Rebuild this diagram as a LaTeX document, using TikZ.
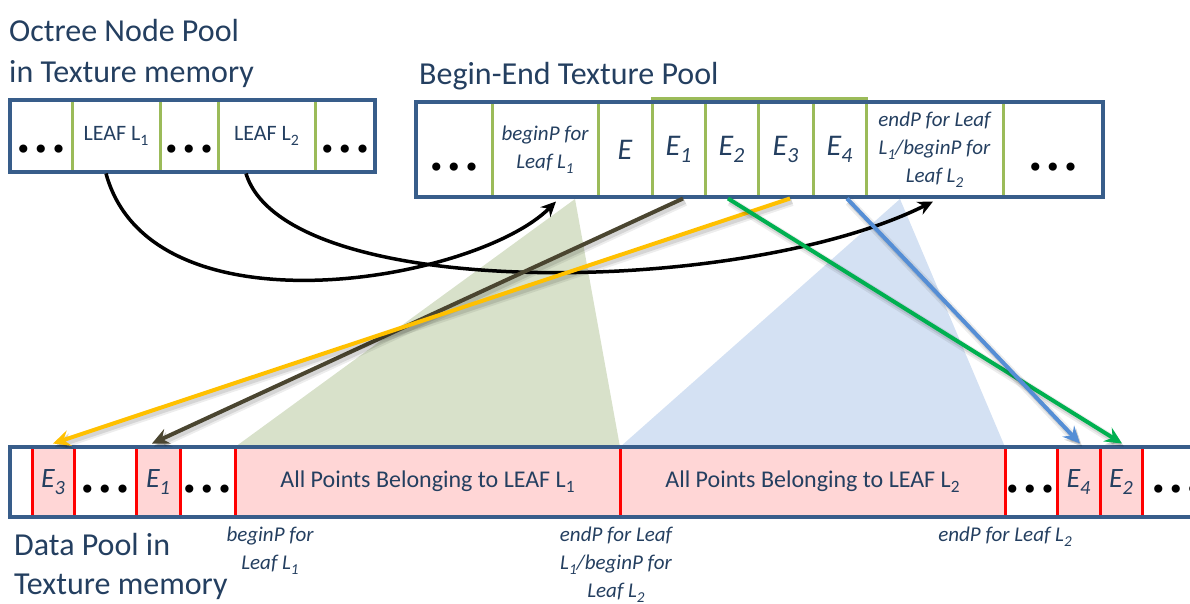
\documentclass[tikz,border=0pt]{standalone}
\usepackage{fontspec}
\setmainfont{Carlito}
\newfontfamily\dejavu{DejaVu Sans}
\usetikzlibrary{arrows.meta,calc}

\definecolor{boxblue}{HTML}{385D8A}
\definecolor{inkblue}{HTML}{243F60}
\definecolor{cellgreen}{HTML}{9BBB59}
\definecolor{cellpink}{HTML}{FFD6D6}
\definecolor{fangreen}{HTML}{D8E1CA}
\definecolor{fanblue}{HTML}{D4E1F3}
\definecolor{olivearrow}{HTML}{4A4530}
\definecolor{yellowarrow}{HTML}{FFC000}
\definecolor{greenarrow}{HTML}{00B050}
\definecolor{bluearrow}{HTML}{558ED5}

\newcommand\tridots{{\dejavu\fontsize{28}{28}\selectfont •\kern1pt•\kern1pt•}}
\newcommand\lsub[1]{\raisebox{-0.22em}{\fontsize{0.72\dimexpr\fontdimen6\font\relax}{0pt}\selectfont #1}}

\begin{document}
\begin{tikzpicture}[x=1pt,y=-1pt,
  title/.style={font=\fontsize{32}{38}\selectfont, text=inkblue, inner sep=0pt},
  ocell/.style={draw=cellgreen, line width=3pt, minimum height=72pt, inner sep=0pt,
    font=\fontsize{22}{26}\selectfont, text=inkblue},
  bcell/.style={draw=cellgreen, line width=3pt, minimum height=95pt, inner sep=0pt,
    text=inkblue, align=center},
  dcell/.style={draw=red, fill=cellpink, line width=3pt, minimum height=70pt, inner sep=0pt,
    text=inkblue},
  bigE/.style={font=\itshape\fontsize{30}{34}\selectfont},
  dataE/.style={font=\itshape\fontsize{28}{32}\selectfont},
  small/.style={font=\itshape\fontsize{21}{28}\selectfont, text=inkblue, align=center, inner sep=0pt},
  dotsnode/.style={inner sep=0pt},
  outline/.style={draw=boxblue, line width=3.5pt},
  linkarrow/.style={line width=3.5pt, -{Stealth[length=15pt,width=14pt]}},
  ptrarrow/.style={line width=4pt, -{Stealth[length=17pt,width=16pt,inset=6pt]},
    preaction={draw=black, opacity=0.07, line width=9pt,
      transform canvas={shift={(2pt,-3pt)}}},
    preaction={draw=black, opacity=0.10, line width=5pt,
      transform canvas={shift={(2pt,-3pt)}}}},
]
\useasboundingbox (0,0) rectangle (1190,603);

% shaded fans: ranges of points covered by each leaf
\fill[fangreen] (575,199) -- (235,447) -- (620,447) -- cycle;
\fill[fanblue] (900,199) -- (620,447) -- (1005,447) -- cycle;

% titles
\node[title, anchor=base west] (octT1) at (9,41) {Octree Node Pool};
\node[title, anchor=base west] (octT2) at (9,82) {in Texture memory};
\node[title, anchor=base west] (beT) at (419,84) {Begin-End Texture Pool};
\node[title, anchor=base west] (dpT1) at (14,555) {Data Pool in};
\node[title, anchor=base west] (dpT2) at (14,594) {Texture memory};

% octree node pool
\node[ocell, minimum width=62pt] (o1) at (41,136) {};
\node[ocell, minimum width=88pt] (leaf1) at (116,136) {LEAF L\lsub{1}};
\node[ocell, minimum width=58pt] (o2) at (189,136) {};
\node[ocell, minimum width=97pt] (leaf2) at (266.5,136) {LEAF L\lsub{2}};
\node[ocell, minimum width=60pt] (o3) at (345,136) {};
\draw[outline] (10,100) rectangle (375,172);
\node[dotsnode] (od1) at (41,152) {\tridots};
\node[dotsnode] (od2) at (189,152) {\tridots};
\node[dotsnode] (od3) at (345,152) {\tridots};

% begin-end texture pool
\node[bcell, minimum width=76pt] (b0) at (454,149.5) {};
\node[bcell, minimum width=106pt, small] (bp1) at (545,149.5) {beginP for\\Leaf L\lsub{1}};
\node[bcell, minimum width=54pt, bigE] (bE) at (625,149.5) {E};
\node[bcell, minimum width=53pt, bigE] (bE1) at (678.5,149.5) {E\lsub{1}};
\node[bcell, minimum width=53pt, bigE] (bE2) at (731.5,149.5) {E\lsub{2}};
\node[bcell, minimum width=55pt, bigE] (bE3) at (785.5,149.5) {E\lsub{3}};
\node[bcell, minimum width=53pt, bigE] (bE4) at (839.5,149.5) {E\lsub{4}};
\node[bcell, minimum width=137pt, small] (bep) at (934.5,149.5) {endP for Leaf\\L\lsub{1}/beginP for\\Leaf L\lsub{2}};
\node[bcell, minimum width=100pt] (b9) at (1053,149.5) {};
\draw[draw=cellgreen, line width=3pt] (652,98) rectangle (866,197);
\draw[outline] (416,102) rectangle (1103,197);
\node[dotsnode] (bd1) at (454,170) {\tridots};
\node[dotsnode] (bd2) at (1053,170) {\tridots};

% data pool
\node[dcell, minimum width=42pt, dataE] (dE3) at (53,482) {E\lsub{3}};
\node[dcell, minimum width=44pt, dataE] (dE1) at (158,482) {E\lsub{1}};
\node[dcell, minimum width=385pt, font=\fontsize{24}{28}\selectfont] (dL1) at (427.5,482) {All Points Belonging to LEAF L\lsub{1}};
\node[dcell, minimum width=385pt, font=\fontsize{24}{28}\selectfont] (dL2) at (812.5,482) {All Points Belonging to LEAF L\lsub{2}};
\node[dcell, minimum width=43pt, dataE] (dE4) at (1078.5,482) {E\lsub{4}};
\node[dcell, minimum width=42pt, dataE] (dE2) at (1121,482) {E\lsub{2}};
\draw[outline] (1196,447) -- (10,447) -- (10,517) -- (1196,517);
\node[dotsnode] (dd1) at (105,492) {\tridots};
\node[dotsnode] (dd2) at (207,492) {\tridots};
\node[dotsnode] (dd3) at (1030,492) {\tridots};
\node[dotsnode, anchor=west] (dd4) at (1150,492) {\tridots};

% boundary labels under the data pool
\node[small, anchor=north] (lbBegin) at (270,527) {beginP for\\Leaf L\lsub{1}};
\node[small, anchor=north] (lbMid) at (616,527) {endP for Leaf\\L\lsub{1}/beginP for\\Leaf L\lsub{2}};
\node[small, anchor=north] (lbEnd) at (1005,527) {endP for Leaf L\lsub{2}};

% leaf -> begin/end texture links
\draw[linkarrow] ([xshift=-10pt]leaf1.south) .. controls +(45,165) and +(-80,80) .. ([xshift=11pt,yshift=-3pt]bp1.south);
\draw[linkarrow] ([xshift=-20.5pt]leaf2.south) .. controls +(40,130) and +(-190,95) .. ([xshift=-1.5pt,yshift=-3pt]bep.south);

% entry -> data pool pointers
\draw[ptrarrow, draw=olivearrow] ([xshift=4.5pt]bE1.south) -- ([xshift=-6pt,yshift=2pt]dE1.north);
\draw[ptrarrow, draw=yellowarrow] ([xshift=4.5pt]bE3.south) -- ([yshift=2pt]dE3.north);
\draw[ptrarrow, draw=greenarrow] ([xshift=-3.5pt]bE2.south) -- ([xshift=1pt,yshift=2pt]dE2.north);
\draw[ptrarrow, draw=bluearrow] ([xshift=7.5pt]bE4.south) -- ([xshift=1.5pt,yshift=2pt]dE4.north);
\end{tikzpicture}
\end{document}
